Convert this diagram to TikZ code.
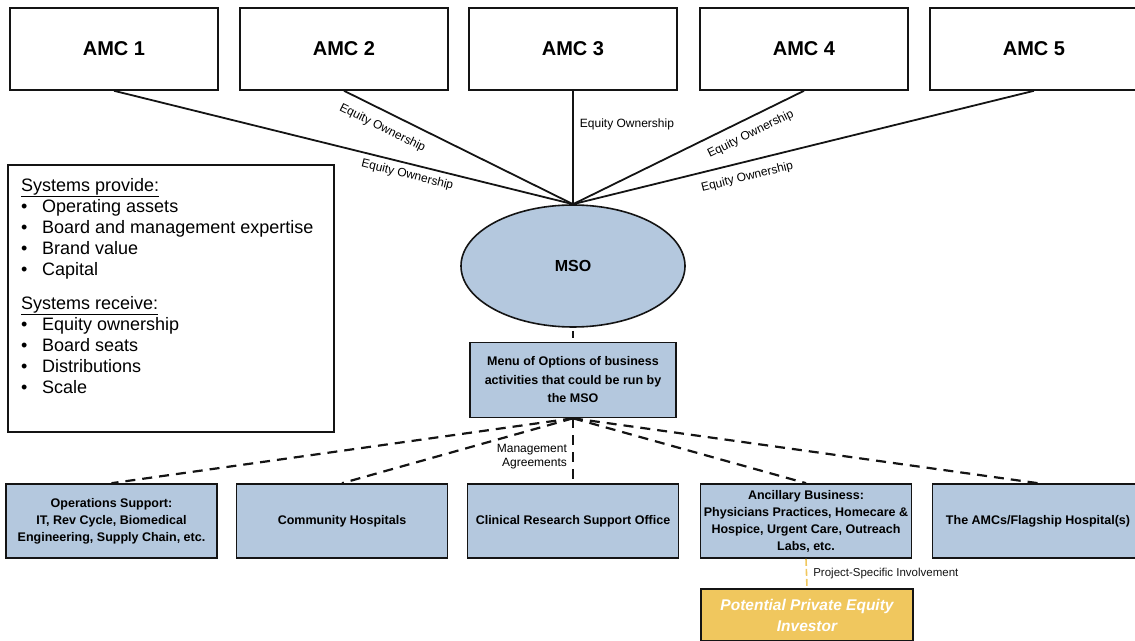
\documentclass[tikz,border=0pt]{standalone}
\usepackage{fontspec}
\setmainfont{Liberation Sans}
\usepackage{tikz}
\usetikzlibrary{arrows.meta,calc,positioning,shapes.geometric}
\definecolor{msoBlue}{RGB}{180,200,222}
\definecolor{msoGold}{RGB}{240,199,94}
\definecolor{msoInk}{RGB}{20,20,20}
\newcommand{\sysitem}[1]{\makebox[21pt][l]{\textbullet}#1}
\tikzset{
  amcbox/.style={draw=msoInk, line width=1.6pt, minimum width=208pt, minimum height=82pt,
    font=\fontsize{20}{24}\selectfont\bfseries},
  optbox/.style={draw=msoInk, fill=msoBlue, line width=1.6pt, minimum width=211pt,
    minimum height=74pt, align=center, inner sep=1pt, font=\fontsize{12.5}{17}\selectfont\bfseries},
  own/.style={draw=msoInk, line width=1.8pt},
  mgmt/.style={draw=msoInk, line width=2.2pt, dash pattern=on 10pt off 7pt},
  tag/.style={font=\fontsize{12}{14}\selectfont, inner sep=1pt},
}

\begin{document}
\begin{tikzpicture}[x=1pt,y=1pt]
  \useasboundingbox (0,0) rectangle (1135,640);
  % owners
  \foreach \n/\x in {1/114,2/344,3/573,4/804,5/1034}
    \node[amcbox] (amc\n) at (\x,591) {AMC \n};
  \node[ellipse, draw=msoInk, fill=msoBlue, line width=1.6pt, minimum width=224pt,
    minimum height=122pt, font=\fontsize{16}{18}\selectfont\bfseries] (mso) at (573,374) {MSO};
  \draw[own] (amc1.south) -- (mso.north) node[tag, pos=0.645, sloped, below=4pt] {Equity Ownership};
  \draw[own] (amc2.south) -- (mso.north) node[tag, pos=0.2, sloped, below=9pt] {Equity Ownership};
  \draw[own] (amc3.south) -- (mso.north) node[tag, pos=0.3, right=5pt] {Equity Ownership};
  \draw[own] (mso.north) -- (amc4.south) node[tag, pos=0.74, sloped, below=8pt] {Equity Ownership};
  \draw[own] (mso.north) -- (amc5.south) node[tag, pos=0.37, sloped, below=8pt] {Equity Ownership};
  % what the systems give and get
  \node[draw=msoInk, line width=1.6pt, minimum width=326pt, minimum height=267pt] (systems) at (171,341.5) {};
  \node[anchor=north west, align=left, inner sep=0pt, font=\fontsize{18}{21}\selectfont] (syslist) at (21,462) {%
    \underline{Systems provide:}\\
    \sysitem{Operating assets}\\
    \sysitem{Board and management expertise}\\
    \sysitem{Brand value}\\
    \sysitem{Capital}\\[13pt]
    \underline{Systems receive:}\\
    \sysitem{Equity ownership}\\
    \sysitem{Board seats}\\
    \sysitem{Distributions}\\
    \sysitem{Scale}};
  % menu and options
  \node[optbox, minimum width=206pt, minimum height=75pt, font=\fontsize{12.5}{18.5}\selectfont\bfseries]
    (menu) at (573,260) {Menu of Options of business\\activities that could be run by\\the MSO};
  \draw[mgmt, dash pattern=on 7pt off 8pt, dash phase=12pt] (mso.south) -- (menu.north);
  \node[optbox] (ops) at (111.5,119) {Operations Support:\\IT, Rev Cycle, Biomedical\\Engineering, Supply Chain, etc.};
  \node[optbox] (community) at (342,119) {Community Hospitals};
  \node[optbox] (research) at (573,119) {Clinical Research Support Office};
  \node[optbox] (ancillary) at (806,119) {Ancillary Business:\\Physicians Practices, Homecare \&\\Hospice, Urgent Care, Outreach\\Labs, etc.};
  \node[optbox] (flagship) at (1038,119) {The AMCs/Flagship Hospital(s)};
  \foreach \b in {ops,community,ancillary,flagship}
    \draw[mgmt] (menu.south) -- (\b.north);
  \draw[mgmt] (menu.south) -- (research.north)
    node[tag, pos=0.59, left=4pt, align=right] {Management\\Agreements};
  % private equity
  \node[draw=msoInk, fill=msoGold, line width=1.6pt, minimum width=212pt, minimum height=52pt,
    align=center, text=white, font=\fontsize{15.5}{21}\selectfont\bfseries\itshape] (pe) at (807,25) {Potential Private Equity\\Investor};
  \draw[msoGold, line width=1.6pt, dash pattern=on 7pt off 3pt] (ancillary.south) -- (pe.north)
    node[tag, pos=0.5, right=5pt, text=msoInk, font=\fontsize{11.5}{14}\selectfont] {Project-Specific Involvement};
\end{tikzpicture}
\end{document}
